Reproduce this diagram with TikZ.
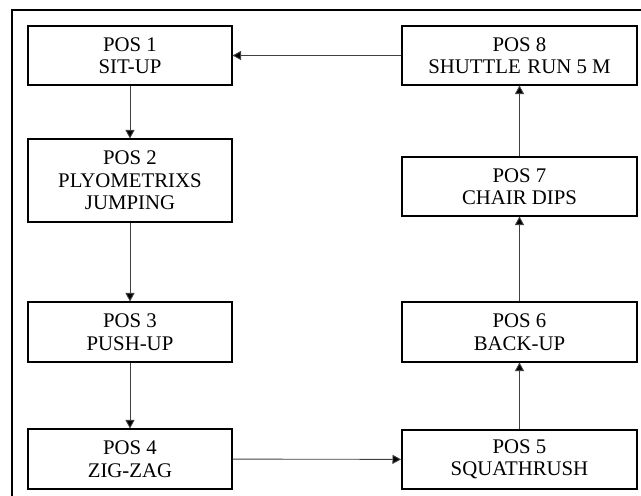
\documentclass[tikz,border=0pt]{standalone}
\usepackage{fontspec}
\setmainfont{Liberation Serif}
\usetikzlibrary{arrows.meta}
\begin{document}
\begin{tikzpicture}[x=1pt,y=-1pt,
  posbox/.style={draw=black,line width=1.1pt,rectangle,inner sep=0pt,align=center,
    font=\fontsize{20.8}{22.5}\selectfont},
  lbox/.style={posbox,minimum width=204pt},
  rbox/.style={posbox,minimum width=235pt},
  conn/.style={draw=black!75,line width=0.9pt,-{Triangle[length=8.5pt,width=9pt,fill=black]}}]
\useasboundingbox (0,0) rectangle (641,496);
\draw[line width=1.1pt] (12,496) -- (12,10) -- (641,10);
\node[lbox,minimum height=59pt] (p1) at (130,55.5) {POS 1\\SIT-UP};
\node[lbox,minimum height=83pt] (p2) at (130,180.5) {POS 2\\PLYOMETRIXS\\JUMPING};
\node[lbox,minimum height=60pt] (p3) at (130,332) {POS 3\\PUSH-UP};
\node[lbox,minimum height=60pt] (p4) at (130,459) {POS 4\\ZIG-ZAG};
\node[rbox,minimum height=59pt,line width=2pt] (p5) at (519.5,459.5) {POS 5\\SQUATHRUSH};
\node[rbox,minimum height=60pt] (p6) at (519.5,332) {POS 6\\BACK-UP};
\node[rbox,minimum height=59pt] (p7) at (519.5,186.5) {POS 7\\CHAIR DIPS};
\node[rbox,minimum height=59pt] (p8) at (519.5,55.5) {POS 8\\SHUTTLE\hspace{0.32em}RUN 5 M};
\draw[conn] (p1) -- (p2);
\draw[conn] (p2) -- (p3);
\draw[conn] (p3) -- (p4);
\draw[conn] (p4) -- (p5);
\draw[conn] (p5) -- (p6);
\draw[conn] (p6) -- (p7);
\draw[conn] (p7) -- (p8);
\draw[conn] (p8) -- (p1);
\end{tikzpicture}
\end{document}
